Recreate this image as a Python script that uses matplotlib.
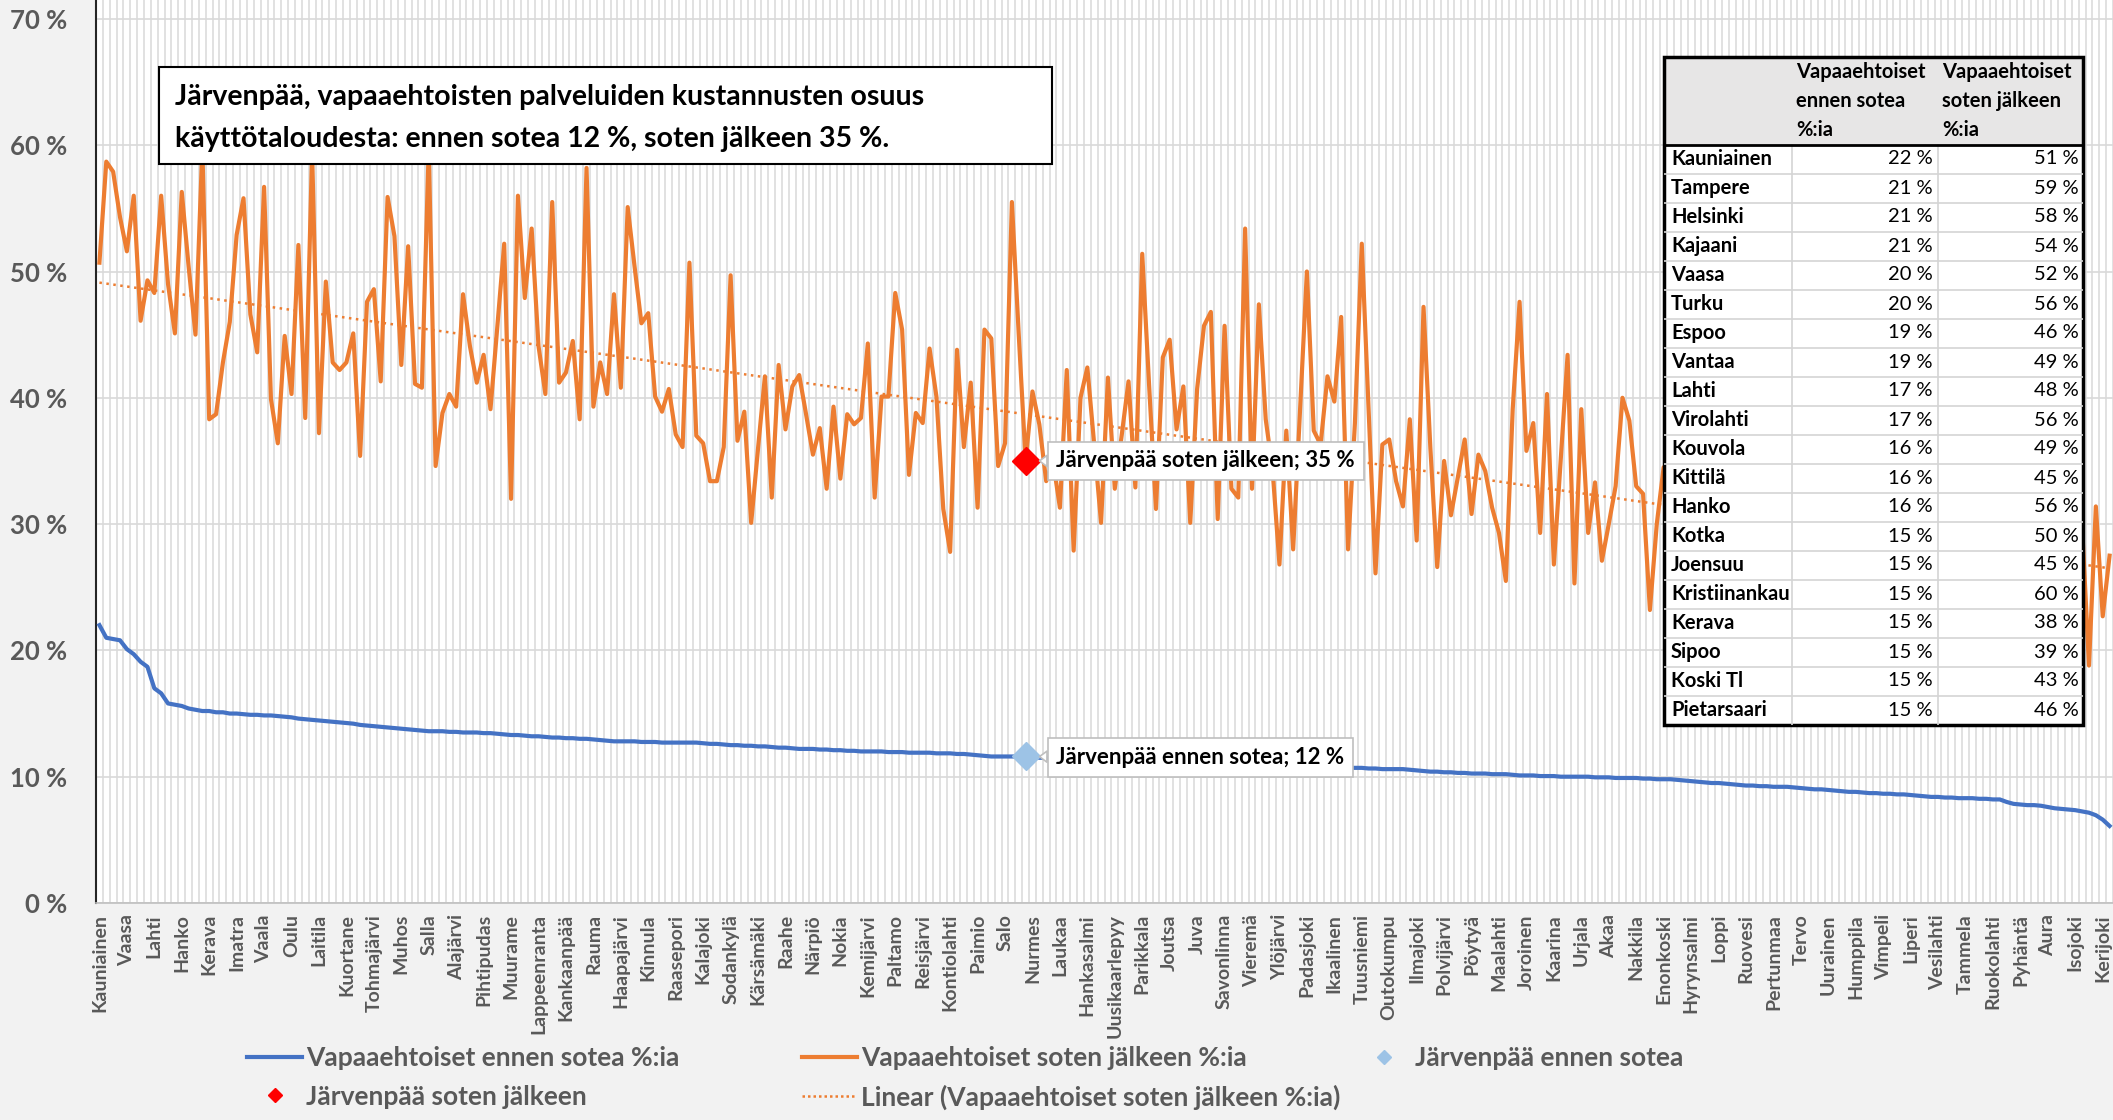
import numpy as np
import matplotlib
matplotlib.use("Agg")
from matplotlib import pyplot as plt
from matplotlib.patches import Rectangle
from matplotlib.lines import Line2D

plt.rcParams['font.family'] = ['Lato', 'DejaVu Sans']

W, H = 2113, 1120

# Vapaaehtoiset ennen sotea %:ia (kunnat jarjestyksessa)
ennen = [22.0, 21.0, 20.9, 20.8, 20.1, 19.7, 19.1, 18.7, 17.0, 16.6, 15.8, 15.7, 15.6, 15.4, 15.3, 15.2, 15.2, 15.1, 15.1, 15.0,
         15.0, 14.95, 14.9, 14.9, 14.85, 14.85, 14.8, 14.75, 14.7, 14.6, 14.55, 14.5, 14.45, 14.4, 14.35, 14.3, 14.25, 14.2, 14.1, 14.05,
         14.0, 13.95, 13.9, 13.85, 13.8, 13.75, 13.7, 13.65, 13.6, 13.6, 13.6, 13.55, 13.55, 13.5, 13.5, 13.5, 13.45, 13.45, 13.4, 13.35,
         13.3, 13.3, 13.25, 13.2, 13.2, 13.15, 13.1, 13.1, 13.05, 13.05, 13.0, 13.0, 12.95, 12.9, 12.85, 12.8, 12.8, 12.8, 12.8, 12.75,
         12.75, 12.75, 12.7, 12.7, 12.7, 12.7, 12.7, 12.7, 12.65, 12.6, 12.6, 12.55, 12.5, 12.5, 12.45, 12.45, 12.4, 12.4, 12.35, 12.3,
         12.3, 12.25, 12.2, 12.2, 12.2, 12.15, 12.15, 12.1, 12.1, 12.05, 12.05, 12.0, 12.0, 12.0, 12.0, 11.95, 11.95, 11.95, 11.9, 11.9,
         11.9, 11.9, 11.85, 11.85, 11.85, 11.8, 11.8, 11.75, 11.7, 11.65, 11.6, 11.6, 11.6, 11.6, 11.6, 11.6, 11.55, 11.5, 11.5, 11.45,
         11.45, 11.4, 11.4, 11.35, 11.35, 11.3, 11.3, 11.3, 11.25, 11.25, 11.2, 11.2, 11.2, 11.15, 11.15, 11.1, 11.1, 11.1, 11.05, 11.05,
         11.0, 11.0, 11.0, 10.95, 10.95, 10.95, 10.9, 10.9, 10.9, 10.85, 10.85, 10.85, 10.8, 10.8, 10.8, 10.8, 10.75, 10.75, 10.75, 10.7,
         10.7, 10.7, 10.7, 10.7, 10.7, 10.65, 10.65, 10.6, 10.6, 10.6, 10.6, 10.55, 10.5, 10.45, 10.4, 10.4, 10.35, 10.35, 10.3, 10.3,
         10.25, 10.25, 10.25, 10.2, 10.2, 10.2, 10.15, 10.1, 10.1, 10.1, 10.05, 10.05, 10.05, 10.0, 10.0, 10.0, 10.0, 10.0, 9.95, 9.95,
         9.95, 9.9, 9.9, 9.9, 9.9, 9.85, 9.85, 9.8, 9.8, 9.8, 9.75, 9.7, 9.65, 9.6, 9.55, 9.5, 9.5, 9.45, 9.4, 9.35,
         9.3, 9.3, 9.25, 9.25, 9.2, 9.2, 9.2, 9.15, 9.1, 9.05, 9.0, 9.0, 8.95, 8.9, 8.85, 8.8, 8.8, 8.75, 8.7, 8.7,
         8.65, 8.65, 8.6, 8.6, 8.55, 8.5, 8.45, 8.4, 8.4, 8.35, 8.35, 8.3, 8.3, 8.3, 8.25, 8.25, 8.2, 8.2, 8.0, 7.85,
         7.8, 7.75, 7.75, 7.7, 7.6, 7.5, 7.45, 7.4, 7.35, 7.25, 7.15, 6.95, 6.6, 6.1]

# Vapaaehtoiset soten jalkeen %:ia
jalkeen = [50.7, 58.7, 57.9, 54.3, 51.6, 56.0, 46.1, 49.3, 48.3, 56.0, 49.0, 45.1, 56.3, 50.4, 45.0, 59.8, 38.3, 38.7, 42.8, 46.0,
           52.9, 55.8, 46.6, 43.6, 56.7, 39.9, 36.4, 44.9, 40.3, 52.1, 38.4, 59.5, 37.2, 49.2, 42.8, 42.2, 42.8, 45.1, 35.4, 47.6,
           48.6, 41.3, 55.9, 52.8, 42.6, 52.0, 41.1, 40.8, 59.8, 34.6, 38.8, 40.3, 39.3, 48.2, 44.1, 41.2, 43.4, 39.1, 45.7, 52.2,
           32.0, 56.0, 47.9, 53.4, 44.1, 40.3, 55.5, 41.2, 42.0, 44.5, 38.3, 58.2, 39.3, 42.8, 40.3, 48.2, 40.8, 55.1, 50.4, 45.9,
           46.7, 40.1, 38.9, 40.7, 37.1, 36.1, 50.7, 37.0, 36.4, 33.4, 33.4, 36.1, 49.7, 36.6, 38.9, 30.1, 36.0, 41.7, 32.1, 42.6,
           37.5, 40.9, 41.8, 38.7, 35.5, 37.6, 32.8, 39.3, 33.6, 38.7, 37.9, 38.4, 44.3, 32.1, 40.1, 40.1, 48.3, 45.4, 33.9, 38.8,
           38.0, 43.9, 40.1, 31.2, 27.8, 43.8, 36.1, 41.2, 31.3, 45.4, 44.7, 34.6, 36.4, 55.5, 45.0, 35.0, 40.5, 37.9, 33.4, 35.0,
           31.3, 42.2, 27.9, 40.0, 42.4, 36.3, 30.1, 41.6, 32.8, 37.0, 41.3, 32.9, 51.4, 41.0, 31.2, 43.2, 44.6, 37.5, 40.9, 30.1,
           40.7, 45.7, 46.8, 30.4, 45.7, 32.8, 32.1, 53.4, 32.8, 47.4, 38.3, 34.3, 26.8, 37.4, 28.0, 39.0, 50.0, 37.4, 36.3, 41.7,
           39.7, 46.4, 28.0, 38.0, 52.2, 39.0, 26.1, 36.3, 36.7, 33.4, 31.4, 38.3, 28.7, 47.2, 36.0, 26.6, 35.0, 30.7, 33.7, 36.7,
           30.8, 35.5, 34.2, 31.3, 29.3, 25.5, 39.1, 47.6, 35.8, 38.0, 29.3, 40.3, 26.8, 35.1, 43.4, 25.3, 39.1, 29.3, 33.3, 27.1,
           30.0, 33.0, 40.0, 38.2, 33.0, 32.4, 23.2, 30.0, 34.5, 27.0, 31.5, 36.0, 25.5, 29.0, 38.5, 28.0, 32.0, 24.5, 30.5, 35.0,
           27.5, 31.0, 22.5, 29.5, 37.0, 26.0, 30.0, 33.5, 24.0, 28.5, 34.0, 27.0, 30.0, 21.5, 32.5, 28.0, 25.5, 36.5, 27.0, 29.0,
           23.5, 31.0, 26.5, 34.5, 24.0, 28.0, 30.5, 22.0, 29.5, 33.0, 25.0, 27.5, 31.5, 23.0, 28.5, 35.0, 24.5, 27.0, 30.0, 21.0,
           29.0, 26.5, 32.0, 23.5, 28.0, 25.0, 30.5, 24.0, 16.0, 29.8, 18.8, 31.4, 22.7, 27.5]

# joka neljas kunta akselilla
nimet = ["Kauniainen", "Vaasa", "Lahti", "Hanko", "Kerava", "Imatra", "Vaala", "Oulu", "Laitila", "Kuortane",
         "Tohmajärvi", "Muhos", "Salla", "Alajärvi", "Pihtipudas", "Muurame", "Lappeenranta", "Kankaanpää", "Rauma",
         "Haapajärvi", "Kinnula", "Raasepori", "Kalajoki", "Sodankylä", "Kärsämäki", "Raahe", "Närpiö", "Nokia",
         "Kemijärvi", "Paltamo", "Reisjärvi", "Kontiolahti", "Paimio", "Salo", "Nurmes", "Laukaa", "Hankasalmi",
         "Uusikaarlepyy", "Parikkala", "Joutsa", "Juva", "Savonlinna", "Vieremä", "Ylöjärvi", "Padasjoki", "Ikaalinen",
         "Tuusniemi", "Outokumpu", "Ilmajoki", "Polvijärvi", "Pöytyä", "Maalahti", "Joroinen", "Kaarina", "Urjala",
         "Akaa", "Nakkila", "Enonkoski", "Hyrynsalmi", "Loppi", "Ruovesi", "Pertunmaa", "Tervo", "Uurainen",
         "Humppila", "Vimpeli", "Liperi", "Vesilahti", "Tammela", "Ruokolahti", "Pyhäntä", "Aura", "Isojoki", "Kerijoki"]

jp_idx = 135
jp_ennen = 11.6
jp_jalkeen = 35.0

# taulukko
t_nimet = ["Kauniainen", "Tampere", "Helsinki", "Kajaani", "Vaasa", "Turku", "Espoo", "Vantaa", "Lahti",
           "Virolahti", "Kouvola", "Kittilä", "Hanko", "Kotka", "Joensuu", "Kristiinankau", "Kerava", "Sipoo",
           "Koski Tl", "Pietarsaari"]
t_ennen = [22, 21, 21, 21, 20, 20, 19, 19, 17, 17, 16, 16, 16, 15, 15, 15, 15, 15, 15, 15]
t_jalkeen = [51, 59, 58, 54, 52, 56, 46, 49, 48, 56, 49, 45, 56, 50, 45, 60, 38, 39, 43, 46]

orange = "#ED7D31"
blue = "#4472C4"
grey = "#595959"

fig = plt.figure(figsize=(W / 100, H / 100), dpi=100, facecolor="#F2F2F2")
ax = fig.add_axes([96 / W, 1 - 903 / H, (W - 96) / W, 903 / H])
ax.set_facecolor("white")

x = np.arange(len(ennen))
ax.set_xlim(-0.5, -0.5 + (W - 96) / 6.88)
ax.set_ylim(0, 903 / 12.63)

# gridit
ax.set_yticks(range(0, 71, 10))
ax.set_yticklabels([f"{v} %" for v in range(0, 71, 10)])
ax.set_xticks(np.arange(-0.5, len(ennen) + 0.5, 1), minor=True)
ax.set_xticks(np.arange(0, len(ennen), 4))
ax.set_xticklabels(nimet, rotation=90)
ax.grid(axis="y", color="#D9D9D9", lw=1.2)
ax.grid(axis="x", which="minor", color="#D9D9D9", lw=1.1)
ax.set_axisbelow(True)
ax.tick_params(axis="x", which="both", length=0, pad=8, labelsize=14, labelcolor=grey)
ax.tick_params(axis="y", length=0, pad=21, labelsize=18.5, labelcolor=grey)
for lab in ax.get_xticklabels() + ax.get_yticklabels():
    lab.set_fontweight("bold")
for s in ["top", "right"]:
    ax.spines[s].set_visible(False)
ax.spines["left"].set_color("#262626")
ax.spines["left"].set_linewidth(1.5)
ax.spines["bottom"].set_color("#BFBFBF")
ax.spines["bottom"].set_linewidth(1.2)

# sarjat
ax.plot(x, ennen, color=blue, lw=3, zorder=3)
ax.plot(x, jalkeen, color=orange, lw=3, zorder=3)
k = np.polyfit(x, jalkeen, 1)
ax.plot(x, np.polyval(k, x), color=orange, lw=1.8, ls=(0, (1, 1.8)), zorder=4)
ax.plot(jp_idx, jp_ennen, "D", color="#9DC3E6", ms=14, zorder=6)
ax.plot(jp_idx, jp_jalkeen, "D", color="#FF0000", ms=14, zorder=6)

box = dict(boxstyle="square,pad=0.4", fc="white", ec="#BFBFBF", lw=1.2)
arrow = dict(arrowstyle="wedge,tail_width=0.5,shrink_factor=0.5", fc="white", ec="#BFBFBF", lw=1.2,
             shrinkA=0, shrinkB=10)
ax.annotate("Järvenpää soten jälkeen; 35 %", xy=(jp_idx, jp_jalkeen), xytext=(139.5, jp_jalkeen),
            ha="left", va="center", fontsize=16, fontweight="bold", color="black", bbox=box,
            arrowprops=arrow, zorder=7)
ax.annotate("Järvenpää ennen sotea; 12 %", xy=(jp_idx, jp_ennen), xytext=(139.5, 11.5),
            ha="left", va="center", fontsize=16, fontweight="bold", color="black", bbox=box,
            arrowprops=arrow, zorder=7)

# otsikkolaatikko
fig.patches.append(Rectangle((159 / W, 1 - 164 / H), (1052 - 159) / W, (164 - 67) / H,
                             transform=fig.transFigure, fc="white", ec="black", lw=1.5, zorder=8))
fig.text(175 / W, 1 - 97 / H, "Järvenpää, vapaaehtoisten palveluiden kustannusten osuus",
         fontsize=20.5, fontweight="bold", va="center", zorder=9)
fig.text(175 / W, 1 - 139 / H, "käyttötaloudesta: ennen sotea 12 %, soten jälkeen 35 %.",
         fontsize=20.5, fontweight="bold", va="center", zorder=9)

# taulukko oikealla
tx0, tx1, tx2, tx3 = 1664, 1792, 1938, 2083
ty0, tyh, rh = 57, 144.5, 29
ty1 = tyh + 20 * rh
tax = fig.add_axes([tx0 / W, 1 - ty1 / H, (tx3 - tx0) / W, (ty1 - ty0) / H])
tax.set_xlim(tx0, tx3)
tax.set_ylim(ty1, ty0)
tax.axis("off")
tax.add_patch(Rectangle((tx0, ty0), tx3 - tx0, ty1 - ty0, fc="white", ec="none"))
tax.add_patch(Rectangle((tx0, ty0), tx3 - tx0, tyh - ty0, fc="#E7E6E6", ec="none"))
for r in range(1, 20):
    tax.plot([tx0, tx3], [tyh + r * rh] * 2, color="#D4D4D4", lw=1.2)
tax.plot([tx1, tx1], [tyh, ty1], color="#D4D4D4", lw=1.2)
tax.plot([tx2, tx2], [tyh, ty1], color="#D4D4D4", lw=1.2)
tax.plot([tx0, tx3], [tyh, tyh], color="black", lw=2)
tax.add_patch(Rectangle((tx0, ty0), tx3 - tx0, ty1 - ty0, fc="none", ec="black", lw=2.5, clip_on=False))
for cx, rivit in [(1796, ["Vapaaehtoiset", "ennen sotea", "%:ia"]),
                  (1942, ["Vapaaehtoiset", "soten jälkeen", "%:ia"])]:
    for j, t in enumerate(rivit):
        tax.text(cx, 72 + 29 * j, t, fontsize=14.5, fontweight="bold", va="center", ha="left")
for r in range(20):
    cy = tyh + (r + 0.5) * rh
    tax.text(1671, cy, t_nimet[r], fontsize=14.5, fontweight="bold", va="center", ha="left")
    tax.text(1933, cy, f"{t_ennen[r]} %", fontsize=14.5, va="center", ha="right")
    tax.text(2079, cy, f"{t_jalkeen[r]} %", fontsize=14.5, va="center", ha="right")

# selite
yleg = 1 - 1046 / H
lkw = dict(frameon=False, prop={"weight": "bold", "size": 19}, labelcolor=grey, borderpad=0,
           borderaxespad=0, handlelength=2.1, handletextpad=0.15, labelspacing=0.55, loc="upper left")
h_blue = Line2D([], [], color=blue, lw=3)
h_orange = Line2D([], [], color=orange, lw=3)
h_red = Line2D([], [], ls="none", marker="D", color="#FF0000", ms=7)
h_lb = Line2D([], [], ls="none", marker="D", color="#9DC3E6", ms=7)
h_trend = Line2D([], [], color=orange, lw=1.8, ls=(0, (1, 1.2)))
fig.legend([h_blue, h_red], ["Vapaaehtoiset ennen sotea %:ia", "Järvenpää soten jälkeen"],
           bbox_to_anchor=(247 / W, yleg), **lkw)
fig.legend([h_orange, h_trend], ["Vapaaehtoiset soten jälkeen %:ia", "Linear (Vapaaehtoiset soten jälkeen %:ia)"],
           bbox_to_anchor=(802 / W, yleg), **lkw)
fig.legend([h_lb], ["Järvenpää ennen sotea"], bbox_to_anchor=(1356 / W, yleg), **lkw)

fig.savefig("out.png", dpi=100, facecolor=fig.get_facecolor())
